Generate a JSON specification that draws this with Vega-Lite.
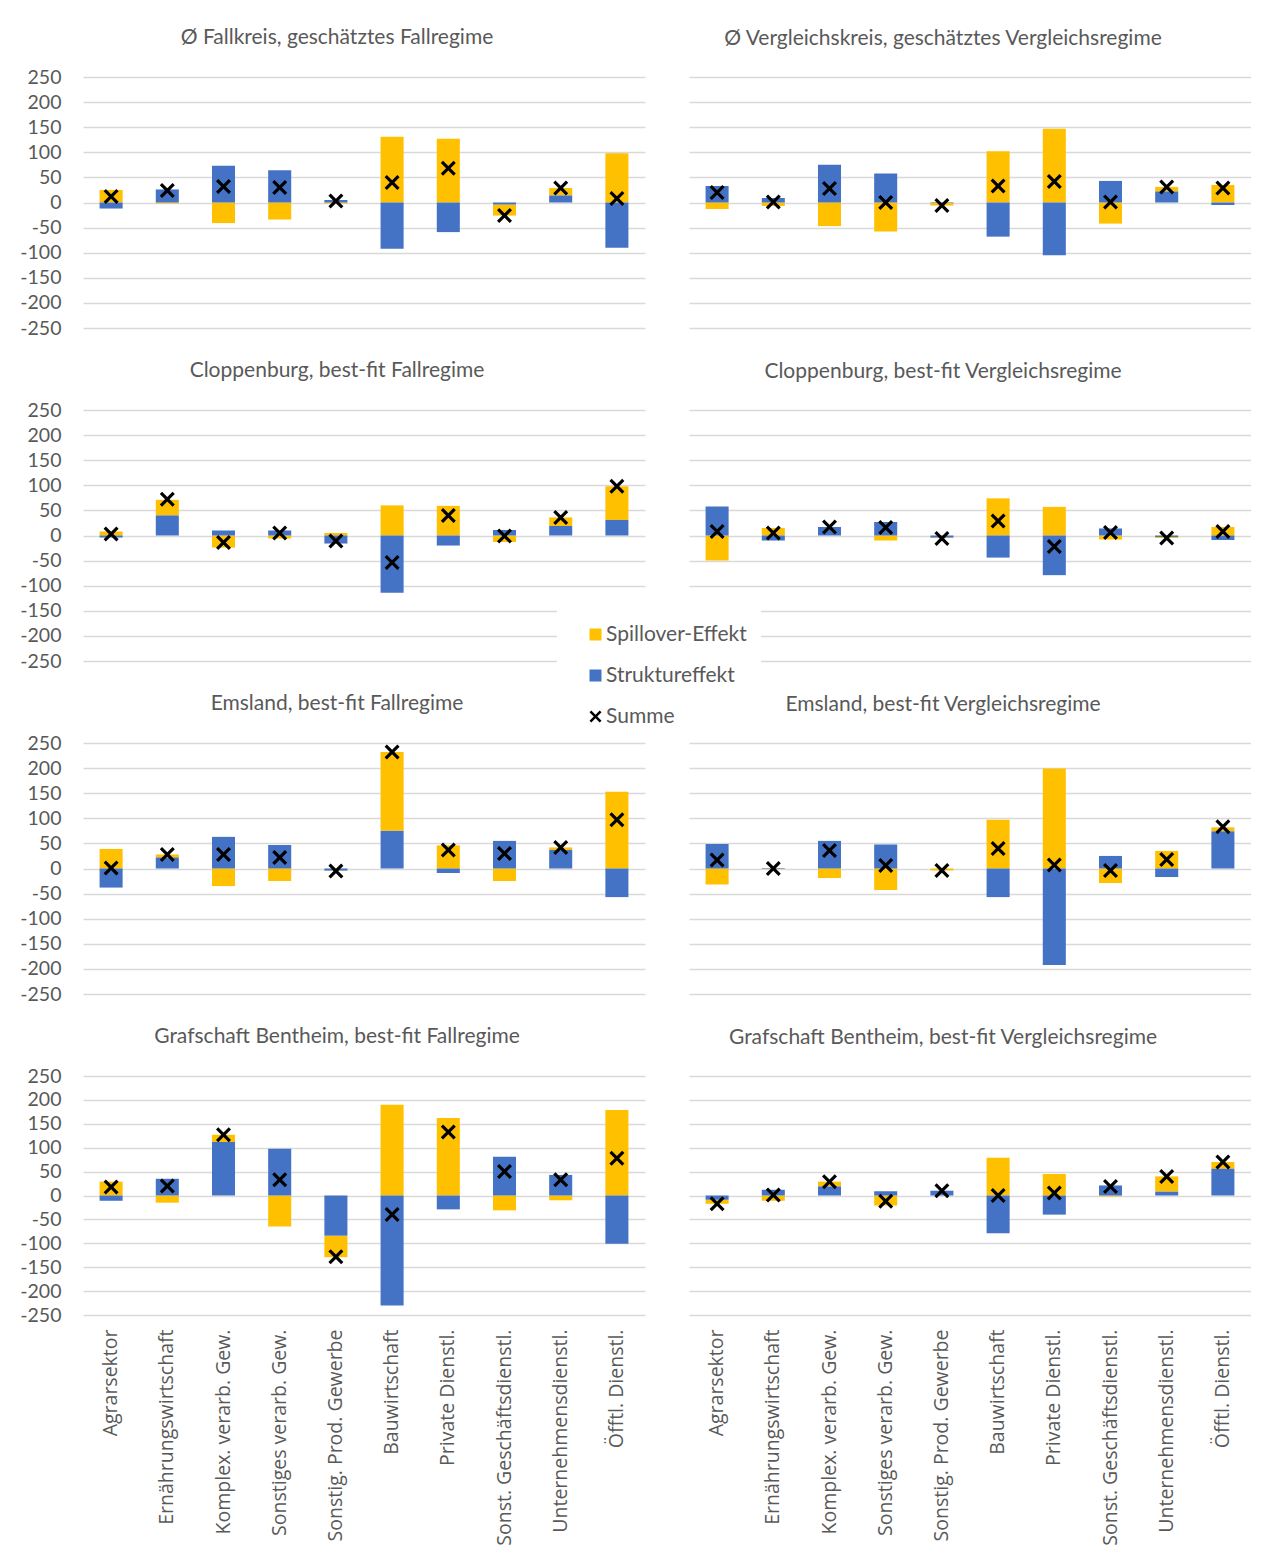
{
  "$schema": "https://vega.github.io/schema/vega-lite/v6.json",
  "background": "white",
  "padding": {"left": 19, "top": 27, "right": 0, "bottom": 0},
  "datasets": {
    "d": [
      {"panel": "P1", "sector": "Agrarsektor", "Spillover-Effekt": 25, "Struktureffekt": -12, "Summe": 12},
      {"panel": "P1", "sector": "Ernährungswirtschaft", "Spillover-Effekt": -2, "Struktureffekt": 26, "Summe": 24},
      {"panel": "P1", "sector": "Komplex. verarb. Gew.", "Spillover-Effekt": -41, "Struktureffekt": 73, "Summe": 32},
      {"panel": "P1", "sector": "Sonstiges verarb. Gew.", "Spillover-Effekt": -34, "Struktureffekt": 64, "Summe": 30},
      {"panel": "P1", "sector": "Sonstig. Prod. Gewerbe", "Spillover-Effekt": -2, "Struktureffekt": 5, "Summe": 3},
      {"panel": "P1", "sector": "Bauwirtschaft", "Spillover-Effekt": 131, "Struktureffekt": -92, "Summe": 40},
      {"panel": "P1", "sector": "Private Dienstl.", "Spillover-Effekt": 127, "Struktureffekt": -59, "Summe": 68},
      {"panel": "P1", "sector": "Sonst. Geschäftsdienstl.", "Spillover-Effekt": -22, "Struktureffekt": -4, "Summe": -26},
      {"panel": "P1", "sector": "Unternehmensdienstl.", "Spillover-Effekt": 15, "Struktureffekt": 14, "Summe": 29},
      {"panel": "P1", "sector": "Öfftl. Dienstl.", "Spillover-Effekt": 98, "Struktureffekt": -90, "Summe": 8},

      {"panel": "P2", "sector": "Agrarsektor", "Spillover-Effekt": -13, "Struktureffekt": 33, "Summe": 20},
      {"panel": "P2", "sector": "Ernährungswirtschaft", "Spillover-Effekt": -7, "Struktureffekt": 9, "Summe": 1},
      {"panel": "P2", "sector": "Komplex. verarb. Gew.", "Spillover-Effekt": -47, "Struktureffekt": 75, "Summe": 28},
      {"panel": "P2", "sector": "Sonstiges verarb. Gew.", "Spillover-Effekt": -58, "Struktureffekt": 58, "Summe": 0},
      {"panel": "P2", "sector": "Sonstig. Prod. Gewerbe", "Spillover-Effekt": -5, "Struktureffekt": -1, "Summe": -6},
      {"panel": "P2", "sector": "Bauwirtschaft", "Spillover-Effekt": 102, "Struktureffekt": -68, "Summe": 33},
      {"panel": "P2", "sector": "Private Dienstl.", "Spillover-Effekt": 147, "Struktureffekt": -105, "Summe": 42},
      {"panel": "P2", "sector": "Sonst. Geschäftsdienstl.", "Spillover-Effekt": -42, "Struktureffekt": 43, "Summe": 1},
      {"panel": "P2", "sector": "Unternehmensdienstl.", "Spillover-Effekt": 9, "Struktureffekt": 22, "Summe": 31},
      {"panel": "P2", "sector": "Öfftl. Dienstl.", "Spillover-Effekt": 35, "Struktureffekt": -5, "Summe": 29},

      {"panel": "P3", "sector": "Agrarsektor", "Spillover-Effekt": 8, "Struktureffekt": -4, "Summe": 3},
      {"panel": "P3", "sector": "Ernährungswirtschaft", "Spillover-Effekt": 31, "Struktureffekt": 40, "Summe": 72},
      {"panel": "P3", "sector": "Komplex. verarb. Gew.", "Spillover-Effekt": -24, "Struktureffekt": 10, "Summe": -14},
      {"panel": "P3", "sector": "Sonstiges verarb. Gew.", "Spillover-Effekt": -6, "Struktureffekt": 10, "Summe": 5},
      {"panel": "P3", "sector": "Sonstig. Prod. Gewerbe", "Spillover-Effekt": 5, "Struktureffekt": -16, "Summe": -11},
      {"panel": "P3", "sector": "Bauwirtschaft", "Spillover-Effekt": 60, "Struktureffekt": -114, "Summe": -54},
      {"panel": "P3", "sector": "Private Dienstl.", "Spillover-Effekt": 59, "Struktureffekt": -20, "Summe": 40},
      {"panel": "P3", "sector": "Sonst. Geschäftsdienstl.", "Spillover-Effekt": -13, "Struktureffekt": 11, "Summe": -1},
      {"panel": "P3", "sector": "Unternehmensdienstl.", "Spillover-Effekt": 17, "Struktureffekt": 19, "Summe": 36},
      {"panel": "P3", "sector": "Öfftl. Dienstl.", "Spillover-Effekt": 67, "Struktureffekt": 31, "Summe": 98},

      {"panel": "P4", "sector": "Agrarsektor", "Spillover-Effekt": -50, "Struktureffekt": 58, "Summe": 8},
      {"panel": "P4", "sector": "Ernährungswirtschaft", "Spillover-Effekt": 15, "Struktureffekt": -10, "Summe": 5},
      {"panel": "P4", "sector": "Komplex. verarb. Gew.", "Spillover-Effekt": 0, "Struktureffekt": 17, "Summe": 17},
      {"panel": "P4", "sector": "Sonstiges verarb. Gew.", "Spillover-Effekt": -10, "Struktureffekt": 27, "Summe": 16},
      {"panel": "P4", "sector": "Sonstig. Prod. Gewerbe", "Spillover-Effekt": -1, "Struktureffekt": -4, "Summe": -6},
      {"panel": "P4", "sector": "Bauwirtschaft", "Spillover-Effekt": 74, "Struktureffekt": -44, "Summe": 29},
      {"panel": "P4", "sector": "Private Dienstl.", "Spillover-Effekt": 57, "Struktureffekt": -79, "Summe": -22},
      {"panel": "P4", "sector": "Sonst. Geschäftsdienstl.", "Spillover-Effekt": -8, "Struktureffekt": 14, "Summe": 6},
      {"panel": "P4", "sector": "Unternehmensdienstl.", "Spillover-Effekt": -2, "Struktureffekt": -3, "Summe": -5},
      {"panel": "P4", "sector": "Öfftl. Dienstl.", "Spillover-Effekt": 17, "Struktureffekt": -9, "Summe": 8},

      {"panel": "P5", "sector": "Agrarsektor", "Spillover-Effekt": 39, "Struktureffekt": -38, "Summe": 1},
      {"panel": "P5", "sector": "Ernährungswirtschaft", "Spillover-Effekt": 6, "Struktureffekt": 22, "Summe": 28},
      {"panel": "P5", "sector": "Komplex. verarb. Gew.", "Spillover-Effekt": -35, "Struktureffekt": 63, "Summe": 28},
      {"panel": "P5", "sector": "Sonstiges verarb. Gew.", "Spillover-Effekt": -25, "Struktureffekt": 47, "Summe": 22},
      {"panel": "P5", "sector": "Sonstig. Prod. Gewerbe", "Spillover-Effekt": -1, "Struktureffekt": -4, "Summe": -5},
      {"panel": "P5", "sector": "Bauwirtschaft", "Spillover-Effekt": 157, "Struktureffekt": 75, "Summe": 232},
      {"panel": "P5", "sector": "Private Dienstl.", "Spillover-Effekt": 46, "Struktureffekt": -9, "Summe": 37},
      {"panel": "P5", "sector": "Sonst. Geschäftsdienstl.", "Spillover-Effekt": -25, "Struktureffekt": 55, "Summe": 30},
      {"panel": "P5", "sector": "Unternehmensdienstl.", "Spillover-Effekt": 5, "Struktureffekt": 37, "Summe": 42},
      {"panel": "P5", "sector": "Öfftl. Dienstl.", "Spillover-Effekt": 153, "Struktureffekt": -57, "Summe": 97},

      {"panel": "P6", "sector": "Agrarsektor", "Spillover-Effekt": -32, "Struktureffekt": 49, "Summe": 17},
      {"panel": "P6", "sector": "Ernährungswirtschaft", "Spillover-Effekt": -1, "Struktureffekt": 1, "Summe": 0},
      {"panel": "P6", "sector": "Komplex. verarb. Gew.", "Spillover-Effekt": -19, "Struktureffekt": 55, "Summe": 36},
      {"panel": "P6", "sector": "Sonstiges verarb. Gew.", "Spillover-Effekt": -43, "Struktureffekt": 48, "Summe": 6},
      {"panel": "P6", "sector": "Sonstig. Prod. Gewerbe", "Spillover-Effekt": -4, "Struktureffekt": 0, "Summe": -4},
      {"panel": "P6", "sector": "Bauwirtschaft", "Spillover-Effekt": 97, "Struktureffekt": -57, "Summe": 40},
      {"panel": "P6", "sector": "Private Dienstl.", "Spillover-Effekt": 199, "Struktureffekt": -192, "Summe": 7},
      {"panel": "P6", "sector": "Sonst. Geschäftsdienstl.", "Spillover-Effekt": -29, "Struktureffekt": 25, "Summe": -4},
      {"panel": "P6", "sector": "Unternehmensdienstl.", "Spillover-Effekt": 35, "Struktureffekt": -17, "Summe": 18},
      {"panel": "P6", "sector": "Öfftl. Dienstl.", "Spillover-Effekt": 8, "Struktureffekt": 74, "Summe": 83},

      {"panel": "P7", "sector": "Agrarsektor", "Spillover-Effekt": 29, "Struktureffekt": -11, "Summe": 18},
      {"panel": "P7", "sector": "Ernährungswirtschaft", "Spillover-Effekt": -15, "Struktureffekt": 35, "Summe": 20},
      {"panel": "P7", "sector": "Komplex. verarb. Gew.", "Spillover-Effekt": 15, "Struktureffekt": 112, "Summe": 127},
      {"panel": "P7", "sector": "Sonstiges verarb. Gew.", "Spillover-Effekt": -65, "Struktureffekt": 98, "Summe": 33},
      {"panel": "P7", "sector": "Sonstig. Prod. Gewerbe", "Spillover-Effekt": -45, "Struktureffekt": -84, "Summe": -128},
      {"panel": "P7", "sector": "Bauwirtschaft", "Spillover-Effekt": 190, "Struktureffekt": -230, "Summe": -40},
      {"panel": "P7", "sector": "Private Dienstl.", "Spillover-Effekt": 162, "Struktureffekt": -29, "Summe": 133},
      {"panel": "P7", "sector": "Sonst. Geschäftsdienstl.", "Spillover-Effekt": -31, "Struktureffekt": 81, "Summe": 50},
      {"panel": "P7", "sector": "Unternehmensdienstl.", "Spillover-Effekt": -10, "Struktureffekt": 43, "Summe": 33},
      {"panel": "P7", "sector": "Öfftl. Dienstl.", "Spillover-Effekt": 179, "Struktureffekt": -101, "Summe": 78},

      {"panel": "P8", "sector": "Agrarsektor", "Spillover-Effekt": -8, "Struktureffekt": -9, "Summe": -17},
      {"panel": "P8", "sector": "Ernährungswirtschaft", "Spillover-Effekt": -11, "Struktureffekt": 12, "Summe": 1},
      {"panel": "P8", "sector": "Komplex. verarb. Gew.", "Spillover-Effekt": 10, "Struktureffekt": 19, "Summe": 29},
      {"panel": "P8", "sector": "Sonstiges verarb. Gew.", "Spillover-Effekt": -21, "Struktureffekt": 9, "Summe": -12},
      {"panel": "P8", "sector": "Sonstig. Prod. Gewerbe", "Spillover-Effekt": 0, "Struktureffekt": 10, "Summe": 10},
      {"panel": "P8", "sector": "Bauwirtschaft", "Spillover-Effekt": 79, "Struktureffekt": -79, "Summe": 0},
      {"panel": "P8", "sector": "Private Dienstl.", "Spillover-Effekt": 45, "Struktureffekt": -40, "Summe": 5},
      {"panel": "P8", "sector": "Sonst. Geschäftsdienstl.", "Spillover-Effekt": -2, "Struktureffekt": 21, "Summe": 19},
      {"panel": "P8", "sector": "Unternehmensdienstl.", "Spillover-Effekt": 32, "Struktureffekt": 8, "Summe": 40},
      {"panel": "P8", "sector": "Öfftl. Dienstl.", "Spillover-Effekt": 14, "Struktureffekt": 56, "Summe": 70}
    ]
  },
  "data": {"name": "d"},
  "spacing": 22,
  "vconcat": [
    {"spacing": 44, "hconcat": [
      {"width": 562, "height": 251, "title": {"text": "Ø Fallkreis, geschätztes Fallregime", "offset": 19},
       "transform": [{"filter": "datum.panel == 'P1'"}],
       "encoding": {
         "x": {"field": "sector", "type": "nominal", "sort": null, "scale": {"paddingInner": 0.59, "paddingOuter": 0.295}, "axis": null},
         "y": {"field": "value", "type": "quantitative", "stack": "zero", "scale": {"domain": [-250, 250], "nice": false}, "axis": {"values": [-250, -200, -150, -100, -50, 0, 50, 100, 150, 200, 250], "labelPadding": 22, "labelOverlap": false, "labelExpr": "replace(datum.label, '−', '-')"}}},
       "layer": [
         {"transform": [{"fold": ["Spillover-Effekt", "Struktureffekt"], "as": ["series", "value"]}],
          "mark": "bar",
          "encoding": {"color": {"field": "series", "type": "nominal", "legend": {"legendY": 533}}, "order": {"field": "series", "sort": "descending"}}},
         {"transform": [{"fold": ["Summe"], "as": ["series", "value"]}],
          "mark": {"type": "point", "filled": true, "color": "black", "size": 225, "opacity": 1},
          "encoding": {"shape": {"field": "series", "type": "nominal", "scale": {"domain": ["Summe"], "range": ["M-1,-0.7L-0.7,-1L0,-0.3L0.7,-1L1,-0.7L0.3,0L1,0.7L0.7,1L0,0.3L-0.7,1L-1,0.7L-0.3,0Z"]}, "legend": {"legendY": 615}}}}
       ]},
      {"width": 562, "height": 251, "title": {"text": "Ø Vergleichskreis, geschätztes Vergleichsregime", "offset": 28},
       "transform": [{"filter": "datum.panel == 'P2'"}],
       "encoding": {
         "x": {"field": "sector", "type": "nominal", "sort": null, "scale": {"paddingInner": 0.59, "paddingOuter": 0.295}, "axis": null},
         "y": {"field": "value", "type": "quantitative", "stack": "zero", "scale": {"domain": [-250, 250], "nice": false}, "axis": {"values": [-250, -200, -150, -100, -50, 0, 50, 100, 150, 200, 250], "labels": false, "minExtent": 0, "maxExtent": 0}}},
       "layer": [
         {"transform": [{"fold": ["Spillover-Effekt", "Struktureffekt"], "as": ["series", "value"]}],
          "mark": "bar",
          "encoding": {"color": {"field": "series", "type": "nominal", "legend": {"legendY": 533}}, "order": {"field": "series", "sort": "descending"}}},
         {"transform": [{"fold": ["Summe"], "as": ["series", "value"]}],
          "mark": {"type": "point", "filled": true, "color": "black", "size": 225, "opacity": 1},
          "encoding": {"shape": {"field": "series", "type": "nominal", "legend": {"legendY": 615}}}}
       ]}
    ]},
    {"spacing": 44, "hconcat": [
      {"width": 562, "height": 251, "title": {"text": "Cloppenburg, best-fit Fallregime", "offset": 19},
       "transform": [{"filter": "datum.panel == 'P3'"}],
       "encoding": {
         "x": {"field": "sector", "type": "nominal", "sort": null, "scale": {"paddingInner": 0.59, "paddingOuter": 0.295}, "axis": null},
         "y": {"field": "value", "type": "quantitative", "stack": "zero", "scale": {"domain": [-250, 250], "nice": false}, "axis": {"values": [-250, -200, -150, -100, -50, 0, 50, 100, 150, 200, 250], "labelPadding": 22, "labelOverlap": false, "labelExpr": "replace(datum.label, '−', '-')"}}},
       "layer": [
         {"transform": [{"fold": ["Spillover-Effekt", "Struktureffekt"], "as": ["series", "value"]}],
          "mark": "bar",
          "encoding": {"color": {"field": "series", "type": "nominal", "legend": {"legendY": 533}}, "order": {"field": "series", "sort": "descending"}}},
         {"transform": [{"fold": ["Summe"], "as": ["series", "value"]}],
          "mark": {"type": "point", "filled": true, "color": "black", "size": 225, "opacity": 1},
          "encoding": {"shape": {"field": "series", "type": "nominal", "legend": {"legendY": 615}}}}
       ]},
      {"width": 562, "height": 251, "title": {"text": "Cloppenburg, best-fit Vergleichsregime", "offset": 28},
       "transform": [{"filter": "datum.panel == 'P4'"}],
       "encoding": {
         "x": {"field": "sector", "type": "nominal", "sort": null, "scale": {"paddingInner": 0.59, "paddingOuter": 0.295}, "axis": null},
         "y": {"field": "value", "type": "quantitative", "stack": "zero", "scale": {"domain": [-250, 250], "nice": false}, "axis": {"values": [-250, -200, -150, -100, -50, 0, 50, 100, 150, 200, 250], "labels": false, "minExtent": 0, "maxExtent": 0}}},
       "layer": [
         {"transform": [{"fold": ["Spillover-Effekt", "Struktureffekt"], "as": ["series", "value"]}],
          "mark": "bar",
          "encoding": {"color": {"field": "series", "type": "nominal", "legend": {"legendY": 533}}, "order": {"field": "series", "sort": "descending"}}},
         {"transform": [{"fold": ["Summe"], "as": ["series", "value"]}],
          "mark": {"type": "point", "filled": true, "color": "black", "size": 225, "opacity": 1},
          "encoding": {"shape": {"field": "series", "type": "nominal", "legend": {"legendY": 615}}}}
       ]}
    ]},
    {"spacing": 44, "hconcat": [
      {"width": 562, "height": 251, "title": {"text": "Emsland, best-fit Fallregime", "offset": 19},
       "transform": [{"filter": "datum.panel == 'P5'"}],
       "encoding": {
         "x": {"field": "sector", "type": "nominal", "sort": null, "scale": {"paddingInner": 0.59, "paddingOuter": 0.295}, "axis": null},
         "y": {"field": "value", "type": "quantitative", "stack": "zero", "scale": {"domain": [-250, 250], "nice": false}, "axis": {"values": [-250, -200, -150, -100, -50, 0, 50, 100, 150, 200, 250], "labelPadding": 22, "labelOverlap": false, "labelExpr": "replace(datum.label, '−', '-')"}}},
       "layer": [
         {"transform": [{"fold": ["Spillover-Effekt", "Struktureffekt"], "as": ["series", "value"]}],
          "mark": "bar",
          "encoding": {"color": {"field": "series", "type": "nominal", "legend": {"legendY": 533}}, "order": {"field": "series", "sort": "descending"}}},
         {"transform": [{"fold": ["Summe"], "as": ["series", "value"]}],
          "mark": {"type": "point", "filled": true, "color": "black", "size": 225, "opacity": 1},
          "encoding": {"shape": {"field": "series", "type": "nominal", "legend": {"legendY": 615}}}}
       ]},
      {"width": 562, "height": 251, "title": {"text": "Emsland, best-fit Vergleichsregime", "offset": 28},
       "transform": [{"filter": "datum.panel == 'P6'"}],
       "encoding": {
         "x": {"field": "sector", "type": "nominal", "sort": null, "scale": {"paddingInner": 0.59, "paddingOuter": 0.295}, "axis": null},
         "y": {"field": "value", "type": "quantitative", "stack": "zero", "scale": {"domain": [-250, 250], "nice": false}, "axis": {"values": [-250, -200, -150, -100, -50, 0, 50, 100, 150, 200, 250], "labels": false, "minExtent": 0, "maxExtent": 0}}},
       "layer": [
         {"transform": [{"fold": ["Spillover-Effekt", "Struktureffekt"], "as": ["series", "value"]}],
          "mark": "bar",
          "encoding": {"color": {"field": "series", "type": "nominal", "legend": {"legendY": 533}}, "order": {"field": "series", "sort": "descending"}}},
         {"transform": [{"fold": ["Summe"], "as": ["series", "value"]}],
          "mark": {"type": "point", "filled": true, "color": "black", "size": 225, "opacity": 1},
          "encoding": {"shape": {"field": "series", "type": "nominal", "legend": {"legendY": 615}}}}
       ]}
    ]},
    {"spacing": 44, "hconcat": [
      {"width": 562, "height": 239, "title": {"text": "Grafschaft Bentheim, best-fit Fallregime", "offset": 19},
       "transform": [{"filter": "datum.panel == 'P7'"}],
       "encoding": {
         "x": {"field": "sector", "type": "nominal", "sort": null, "scale": {"paddingInner": 0.59, "paddingOuter": 0.295}, "axis": {"labelAngle": 270, "labelAlign": "right", "labelBaseline": "middle", "labelPadding": 14, "labelLimit": 300, "grid": false, "labelFont": "Open Sans", "labelFontSize": 19.5}},
         "y": {"field": "value", "type": "quantitative", "stack": "zero", "scale": {"domain": [-250, 250], "nice": false}, "axis": {"values": [-250, -200, -150, -100, -50, 0, 50, 100, 150, 200, 250], "labelPadding": 22, "labelOverlap": false, "labelExpr": "replace(datum.label, '−', '-')"}}},
       "layer": [
         {"transform": [{"fold": ["Spillover-Effekt", "Struktureffekt"], "as": ["series", "value"]}],
          "mark": "bar",
          "encoding": {"color": {"field": "series", "type": "nominal", "legend": {"legendY": 533}}, "order": {"field": "series", "sort": "descending"}}},
         {"transform": [{"fold": ["Summe"], "as": ["series", "value"]}],
          "mark": {"type": "point", "filled": true, "color": "black", "size": 225, "opacity": 1},
          "encoding": {"shape": {"field": "series", "type": "nominal", "legend": {"legendY": 615}}}}
       ]},
      {"width": 562, "height": 239, "title": {"text": "Grafschaft Bentheim, best-fit Vergleichsregime", "offset": 28},
       "transform": [{"filter": "datum.panel == 'P8'"}],
       "encoding": {
         "x": {"field": "sector", "type": "nominal", "sort": null, "scale": {"paddingInner": 0.59, "paddingOuter": 0.295}, "axis": {"labelAngle": 270, "labelAlign": "right", "labelBaseline": "middle", "labelPadding": 14, "labelLimit": 300, "grid": false, "labelFont": "Open Sans", "labelFontSize": 19.5}},
         "y": {"field": "value", "type": "quantitative", "stack": "zero", "scale": {"domain": [-250, 250], "nice": false}, "axis": {"values": [-250, -200, -150, -100, -50, 0, 50, 100, 150, 200, 250], "labels": false, "minExtent": 0, "maxExtent": 0}}},
       "layer": [
         {"transform": [{"fold": ["Spillover-Effekt", "Struktureffekt"], "as": ["series", "value"]}],
          "mark": "bar",
          "encoding": {"color": {"field": "series", "type": "nominal", "legend": {"legendY": 533}}, "order": {"field": "series", "sort": "descending"}}},
         {"transform": [{"fold": ["Summe"], "as": ["series", "value"]}],
          "mark": {"type": "point", "filled": true, "color": "black", "size": 225, "opacity": 1},
          "encoding": {"shape": {"field": "series", "type": "nominal", "legend": {"legendY": 615}}}}
       ]}
    ]}
  ],
  "config": {
    "font": "Lato",
    "view": {"stroke": null},
    "range": {"category": ["#FFC000", "#4472C4"]},
    "axis": {"labelFont": "Lato", "labelColor": "#595959", "labelFontSize": 19.5, "ticks": false, "domain": false, "gridColor": "#D9D9D9", "gridWidth": 1.3, "title": null},
    "axisY": {"labelOverlap": false, "labelBound": false},
    "title": {"font": "Lato", "fontSize": 21, "fontWeight": "normal", "color": "#595959", "frame": "group", "anchor": "middle", "dx": -27, "baseline": "middle"},
    "legend": {"orient": "none", "legendX": 474, "legendY": 533, "title": null, "fillColor": "white", "padding": 14, "symbolOffset": 14, "rowPadding": 19, "labelOffset": 0, "symbolSize": 144, "labelFont": "Lato", "labelFontSize": 21, "labelColor": "#595959", "symbolStrokeWidth": 0}
  }
}
